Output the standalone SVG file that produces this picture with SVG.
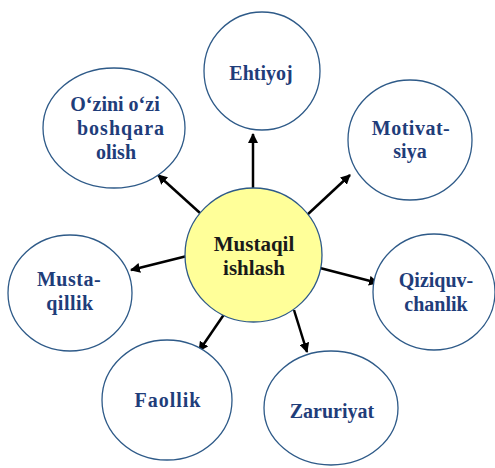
<svg xmlns="http://www.w3.org/2000/svg" width="495" height="468" viewBox="0 0 495 468">
<style>
.c{fill:#fff;stroke:#2e5a88;stroke-width:1.3}
.m{fill:#ffff99;stroke:#2e5a88;stroke-width:1.3}
.t{font-family:'Liberation Serif','Times New Roman',serif;font-weight:bold;font-size:20px;fill:#1f3d7a;text-anchor:middle}
.tm{font-family:'Liberation Serif','Times New Roman',serif;font-weight:bold;font-size:21px;fill:#1a1a1a;text-anchor:middle}
.a{stroke:#000;stroke-width:2.5;fill:none;marker-end:url(#ah)}
</style>
<defs>
<marker id="ah" viewBox="0 0 10 10" refX="9" refY="5" markerWidth="4" markerHeight="4" orient="auto" markerUnits="strokeWidth">
<path d="M0,0 L10,5 L0,10 z" fill="#000"/>
</marker>
</defs>
<rect width="495" height="468" fill="#fff"/>
<g id="connectors">
<line class="a" x1="253" y1="188" x2="253" y2="134"/>
<line class="a" x1="307" y1="215" x2="350" y2="175"/>
<line class="a" x1="200" y1="213" x2="158" y2="175"/>
<line class="a" x1="187" y1="256" x2="131" y2="270"/>
<line class="a" x1="227" y1="310" x2="199" y2="351"/>
<line class="a" x1="320" y1="268" x2="378" y2="283"/>
<line class="a" x1="294" y1="310" x2="307" y2="352"/>
</g>
<g id="ehtiyoj">
<ellipse class="c" cx="262" cy="71" rx="58" ry="59"/>
<text class="t" x="261" y="80">Ehtiyoj</text>
</g>
<g id="ozini">
<ellipse class="c" cx="114" cy="128" rx="71" ry="60"/>
<text class="t" x="115" y="111">O‘zini o‘zi</text>
<text class="t" x="121" y="135" letter-spacing="1">boshqara</text>
<text class="t" x="116" y="159">olish</text>
</g>
<g id="motivatsiya">
<ellipse class="c" cx="410" cy="140" rx="62" ry="60"/>
<text class="t" x="411" y="135" letter-spacing="0.5">Motivat-</text>
<text class="t" x="410" y="158">siya</text>
</g>
<g id="mustaqillik">
<ellipse class="c" cx="70" cy="293" rx="62" ry="58"/>
<text class="t" x="69" y="286" letter-spacing="0.5">Musta-</text>
<text class="t" x="70" y="310" letter-spacing="0.5">qillik</text>
</g>
<g id="faollik">
<ellipse class="c" cx="167" cy="400" rx="65" ry="60"/>
<text class="t" x="168" y="407" letter-spacing="1">Faollik</text>
</g>
<g id="qiziquvchanlik">
<ellipse class="c" cx="434" cy="292" rx="61" ry="58"/>
<text class="t" x="436" y="287">Qiziquv-</text>
<text class="t" x="436" y="311">chanlik</text>
</g>
<g id="zaruriyat">
<ellipse class="c" cx="331" cy="408" rx="67" ry="57"/>
<text class="t" x="332" y="418">Zaruriyat</text>
</g>
<g id="mustaqil-ishlash">
<ellipse class="m" cx="253.5" cy="255" rx="68.5" ry="67"/>
<text class="tm" x="254" y="251">Mustaqil</text>
<text class="tm" x="254" y="275">ishlash</text>
</g>
</svg>
